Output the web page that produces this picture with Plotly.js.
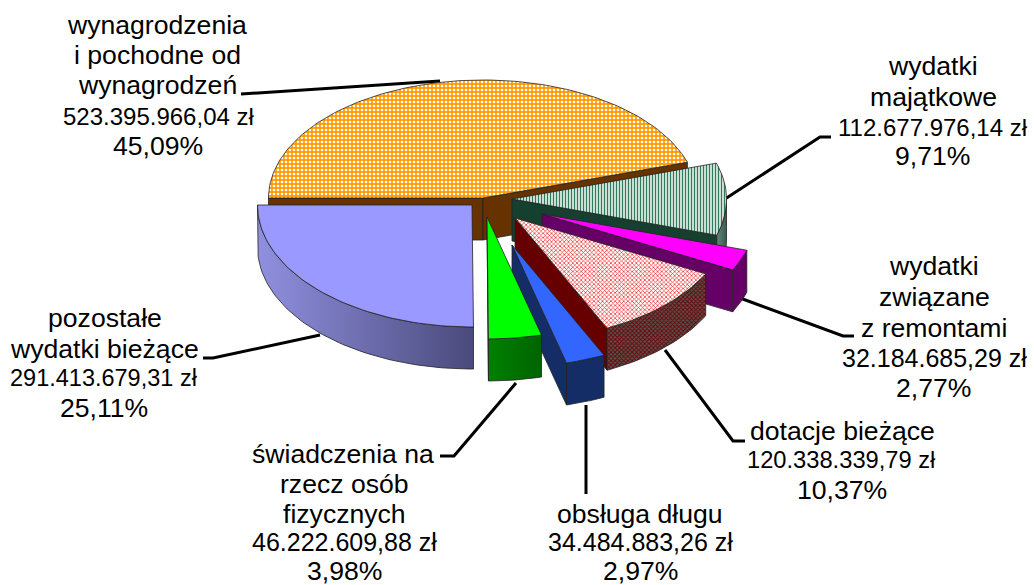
<!DOCTYPE html>
<html><head><meta charset="utf-8">
<script src="https://cdn.plot.ly/plotly-3.0.1.min.js"></script>
<style>html,body{margin:0;padding:0;background:#fff}#c{width:1034px;height:585px}</style>
</head><body><div id="c"></div>
<script>
// --- data ---
var categories = ["wynagrodzenia i pochodne od wynagrodzeń","wydatki majątkowe","wydatki związane z remontami","dotacje bieżące","obsługa długu","świadczenia na rzecz osób fizycznych","pozostałe wydatki bieżące"];
var percents = [45.09, 9.71, 2.77, 10.37, 2.97, 3.98, 25.11];
var amountLabels = ["523.395.966,04 zł","112.677.976,14 zł","32.184.685,29 zł","120.338.339,79 zł","34.484.883,26 zł","46.222.609,88 zł","291.413.679,31 zł"];
var percentLabels = ["45,09%","9,71%","2,77%","10,37%","2,97%","3,98%","25,11%"];

// --- pie geometry ---
var startAngle = 270, radiusX = 214.5, radiusBack = 118, radiusFront = 122, depth = 42;
var apexes = [[483,198],[512,199],[542,214],[515,218],[512,245],[487,217],[472,205]];
var drawOrder = [0,1,2,3,4,6,5];

// --- styles ---
var solidTop = [null,null,"#ff00ff",null,"#3366ff","#00ff00","#9999ff"];
var patternTop = [
  {shape:".",fgcolor:"#ffffff",bgcolor:"#ff9900",size:4,solidity:0.35},
  {shape:"|",fgcolor:"#2f7a5a",bgcolor:"#ffffff",size:3,solidity:0.5},
  null,
  {shape:"x",fgcolor:"#ee2222",bgcolor:"#ffffff",size:3,solidity:0.4},
  null,null,null];
var wallColor = ["#663300","#154030","#660066","#660000","#142d66","#007700","#4d4d80"];
var arcGradient = {
  1:["#5f8878","#3a5a50"],
  2:["#660066","#660066"],
  3:["#7a2222","#6a5050"],
  4:["#142d66","#142d66"],
  5:["#008000","#006400"],
  6:["#9090e0","#4a4a7c"]
};
var arcPattern = {3:{shape:"x",fgcolor:"#700000",bgcolor:"#555555",size:3,solidity:0.5}};

var leaderLines = [
  [[241,94],[300,90],[440,81]],
  [[725,199],[820,137],[831,137]],
  [[740,298],[843,336],[854,336]],
  [[665,350],[733,441],[745,441]],
  [[586,405],[586,494]],
  [[516,383],[454,456],[440,456]],
  [[320,335],[213,358],[203,358]]
];

var textSize = 26.6;
var labelLines = [
  [["wynagrodzenia",157,25,textSize],["i pochodne od",157,55,textSize],["wynagrodzeń",157,85,textSize],[amountLabels[0],158,116,24],[percentLabels[0],158,146,textSize]],
  [["wydatki",933,66,textSize],["majątkowe",933,97,textSize],[amountLabels[1],933,127,24],[percentLabels[1],932,156,textSize]],
  [["wydatki",934,266,textSize],["związane",934,297,textSize],["z remontami",934,328,textSize],[amountLabels[2],934,358,25],[percentLabels[2],933,388,textSize]],
  [["dotacje bieżące",842,431,textSize],[amountLabels[3],841,460,23.7],[percentLabels[3],842,490,textSize]],
  [["obsługa długu",640,514,textSize],[amountLabels[4],640,542,25],[percentLabels[4],640,571,textSize]],
  [["świadczenia na",343,454,textSize],["rzecz osób",344,484,textSize],["fizycznych",344,514,textSize],[amountLabels[5],344,542,25],[percentLabels[5],344,571,textSize]],
  [["pozostałe",105,318,textSize],["wydatki bieżące",104,349,textSize],[amountLabels[6],104,378,23.5],[percentLabels[6],104,408,textSize]]
];

// --- build ---
function rad(d){return d*Math.PI/180;}
function pt(i,theta,dz){
  var c=Math.cos(rad(theta)), s=Math.sin(rad(theta));
  var b = c>0 ? radiusBack : radiusFront;
  return [apexes[i][0]+radiusX*s, apexes[i][1]-b*c+(dz||0)];
}
function arc(i,a,b,dz){
  var out=[], n=Math.max(2,Math.ceil(Math.abs(b-a)/1.5));
  for(var k=0;k<=n;k++) out.push(pt(i,a+(b-a)*k/n,dz));
  return out;
}
function poly(points,opts){
  var t={type:"scatter",mode:"lines",x:points.map(function(p){return p[0]}).concat([points[0][0]]),
    y:points.map(function(p){return p[1]}).concat([points[0][1]]),fill:"toself",hoverinfo:"skip",showlegend:false,
    line:{color:opts.line||"#222222",width:opts.width===undefined?0.8:opts.width}};
  if(opts.pattern){t.fillcolor=opts.pattern.bgcolor;t.fillpattern=opts.pattern;}
  else if(opts.gradient){t.fillgradient={type:"horizontal",colorscale:[[0,opts.gradient[0]],[1,opts.gradient[1]]]};}
  else t.fillcolor=opts.color;
  return t;
}
var traces=[];
leaderLines.forEach(function(l){
  traces.push({type:"scatter",mode:"lines",x:l.map(function(p){return p[0]}),y:l.map(function(p){return p[1]}),
    line:{color:"#000000",width:3},hoverinfo:"skip",showlegend:false});
});
var bounds=[], acc=startAngle;
percents.forEach(function(p){ bounds.push([acc,acc+p*3.6]); acc+=p*3.6; });
function norm(a){return ((a%360)+360)%360;}
drawOrder.forEach(function(i){
  var t1=bounds[i][0], t2=bounds[i][1], ap=[apexes[i][0],apexes[i][1]];
  var apD=[ap[0],ap[1]+depth];
  var n1=norm(t1), n2=norm(t2);
  if(Math.sin(rad(n1))<0){
    traces.push(poly([ap,pt(i,t1),pt(i,t1,depth),apD],{color:wallColor[i]}));
  }
  if(Math.sin(rad(n2))>0 && n2<180){
    traces.push(poly([ap,pt(i,t2),pt(i,t2,depth),apD],{color:wallColor[i]}));
  }
  var a=Math.max(t1,90), b=Math.min(t2,270);
  if(t1>=270){a=Math.max(t1-360,90); b=Math.min(t2-360,270);}
  if(b>a){
    var pts=arc(i,a,b,0).concat(arc(i,b,a,depth));
    var o=arcPattern[i]?{pattern:arcPattern[i]}:{gradient:arcGradient[i]};
    traces.push(poly(pts,o));
  }
  var top=[ap].concat(arc(i,t1,t2,0));
  traces.push(poly(top,patternTop[i]?{pattern:patternTop[i]}:{color:solidTop[i]}));
});
var annotations=[];
labelLines.forEach(function(group){group.forEach(function(l){
  annotations.push({xref:"x",yref:"y",x:l[1],y:l[2],text:l[0],showarrow:false,xanchor:"center",yanchor:"middle",
    font:{family:"Liberation Sans, Arial, sans-serif",size:l[3],color:"#000000"}});
});});
Plotly.newPlot("c",traces,{
  width:1034,height:585,margin:{l:0,r:0,t:0,b:0},paper_bgcolor:"#ffffff",plot_bgcolor:"#ffffff",showlegend:false,
  xaxis:{range:[0,1034],visible:false,fixedrange:true},
  yaxis:{range:[585,0],visible:false,fixedrange:true},
  annotations:annotations
},{displayModeBar:false,staticPlot:true});
</script></body></html>
